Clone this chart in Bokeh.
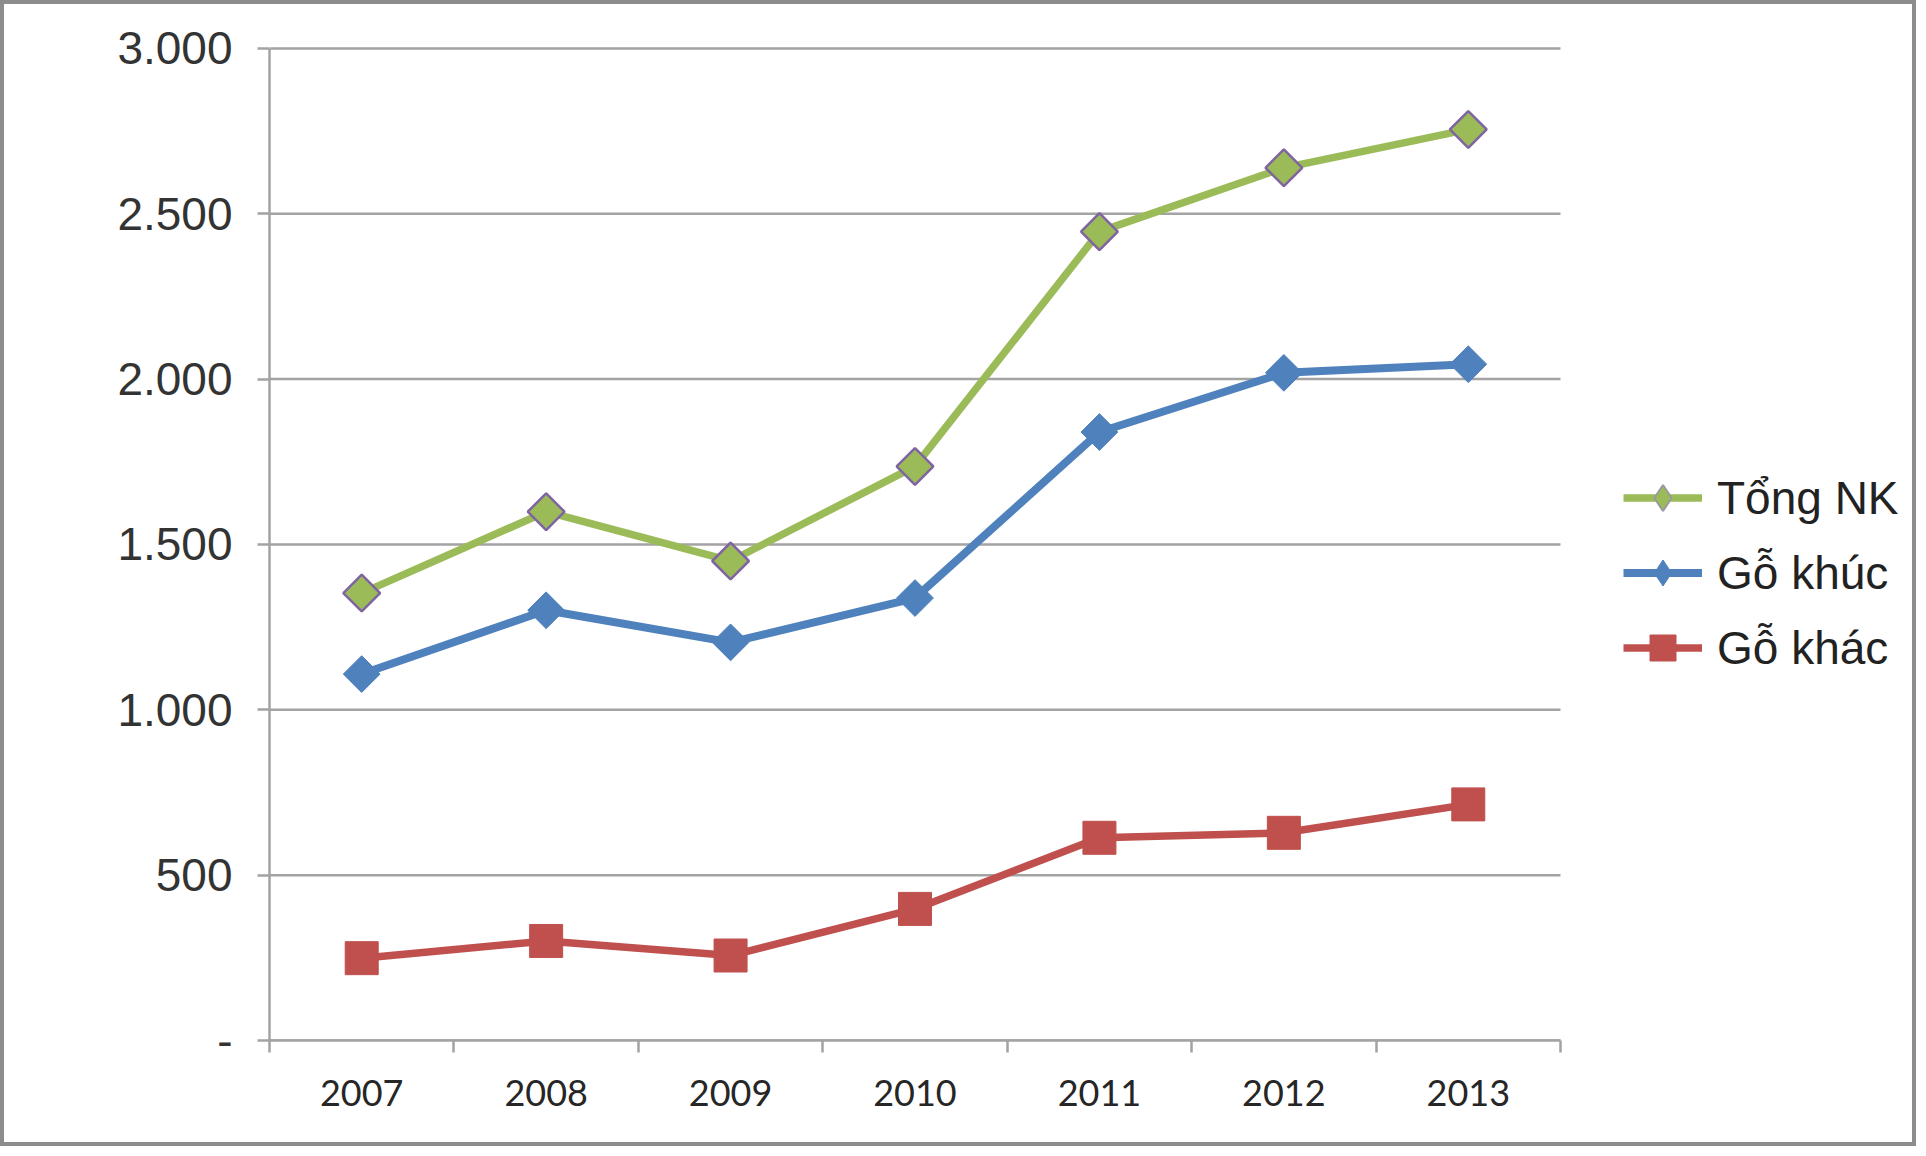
import math
from bokeh.plotting import figure
from bokeh.models import FixedTicker, Range1d, Legend, LegendItem
from bokeh.embed import file_html
from bokeh.resources import INLINE

# ---- data ----
years = ["2007", "2008", "2009", "2010", "2011", "2012", "2013"]
tong_nk = [1353, 1599, 1450, 1736, 2446, 2639, 2755]
go_khuc = [1108, 1301, 1204, 1338, 1840, 2019, 2045]
go_khac = [249, 301, 257, 398, 613, 628, 714]
series_names = ["Tổng NK", "Gỗ khúc", "Gỗ khác"]
y_ticks = [0, 500, 1000, 1500, 2000, 2500, 3000]
y_tick_labels = ["-", "500", "1.000", "1.500", "2.000", "2.500", "3.000"]

x = list(range(len(years)))
nan = float("nan")

GREEN = "#9BBB59"
PURPLE = "#8064A2"
BLUE = "#4F81BD"
RED = "#C0504D"
GRID = "#a3a3a3"

# layout: the category area is 1291 px wide; the frame continues to the right
# (empty) so the legend can sit inside it, to the right of the data area.
W_TOTAL = 1916
LEFT = 265
CAT_PX = 1291 / len(years)
x_end = -0.5 + (W_TOTAL - LEFT) / CAT_PX

p = figure(width=W_TOTAL, height=1146, output_backend="svg", toolbar_location=None,
           x_range=Range1d(-0.5, x_end), y_range=Range1d(0, 3030),
           min_border_left=LEFT, min_border_right=0, min_border_top=34,
           min_border_bottom=110)
p.styles = {"border": "4px solid #8c8c8c"}
p.outline_line_color = None
p.background_fill_color = "white"
p.border_fill_color = "white"

cat_lo, cat_hi = -0.5, len(years) - 0.5

# horizontal grid lines, limited to the category area
p.xgrid.visible = False
p.ygrid.visible = False
p.segment(x0=[cat_lo] * len(y_ticks), y0=y_ticks, x1=[cat_hi] * len(y_ticks), y1=y_ticks,
          line_color=GRID, line_width=2.5, level="underlay")

# x axis
xa = p.xaxis[0]
xa.ticker = FixedTicker(ticks=x, minor_ticks=[i - 0.5 for i in range(len(years) + 1)])
xa.major_label_overrides = {i: years[i] for i in x}
xa.bounds = (cat_lo, cat_hi)
xa.major_tick_line_color = None
xa.major_tick_out = 0
xa.major_tick_in = 0
xa.minor_tick_line_color = GRID
xa.minor_tick_line_width = 2.5
xa.minor_tick_out = 12
xa.minor_tick_in = 0
xa.axis_line_color = GRID
xa.axis_line_width = 2.5
xa.major_label_text_font = "Lato"
xa.major_label_text_font_size = "36px"
xa.major_label_text_color = "#262626"
xa.major_label_standoff = 27

# y axis
ya = p.yaxis[0]
ya.ticker = FixedTicker(ticks=y_ticks)
ya.major_label_overrides = {t: l for t, l in zip(y_ticks, y_tick_labels)}
ya.bounds = (0, 3000)
ya.minor_tick_line_color = None
ya.major_tick_line_color = GRID
ya.major_tick_line_width = 2.5
ya.major_tick_out = 12
ya.major_tick_in = 0
ya.axis_line_color = GRID
ya.axis_line_width = 2.5
ya.major_label_text_font = "Liberation Sans"
ya.major_label_text_font_size = "46px"
ya.major_label_text_color = "#333333"
ya.major_label_standoff = 25

# series
l1 = p.line(x, tong_nk, line_color=GREEN, line_width=7.5)
m1 = p.scatter(x, tong_nk, marker="square", angle=math.pi / 4, size=26,
               fill_color=GREEN, line_color=PURPLE, line_width=2.5)
l2 = p.line(x, go_khuc, line_color=BLUE, line_width=8)
m2 = p.scatter(x, go_khuc, marker="square", angle=math.pi / 4, size=26,
               fill_color=BLUE, line_color=BLUE, line_width=1)
l3 = p.line(x, go_khac, line_color=RED, line_width=7.5)
m3 = p.scatter(x, go_khac, marker="square", size=33,
               fill_color=RED, line_color=RED, line_width=1)

# legend-only diamond glyphs (no points in the plot)
d1 = p.scatter([nan], [nan], marker="diamond", size=26,
               fill_color=GREEN, line_color="#9a9a9a", line_width=2)
d2 = p.scatter([nan], [nan], marker="diamond", size=26,
               fill_color=BLUE, line_color=BLUE, line_width=1)

legend = Legend(items=[
    LegendItem(label=series_names[0], renderers=[l1, d1]),
    LegendItem(label=series_names[1], renderers=[l2, d2]),
    LegendItem(label=series_names[2], renderers=[l3, m3]),
], location=(1354, 360))
legend.border_line_color = None
legend.background_fill_alpha = 0
legend.padding = 0
legend.margin = 0
legend.spacing = 10
legend.glyph_width = 79
legend.glyph_height = 65
legend.label_standoff = 15
legend.label_text_font = "Liberation Sans"
legend.label_text_font_size = "46px"
legend.label_text_color = "#222222"
p.add_layout(legend, "center")

open("out.html", "w").write(file_html(p, INLINE))
